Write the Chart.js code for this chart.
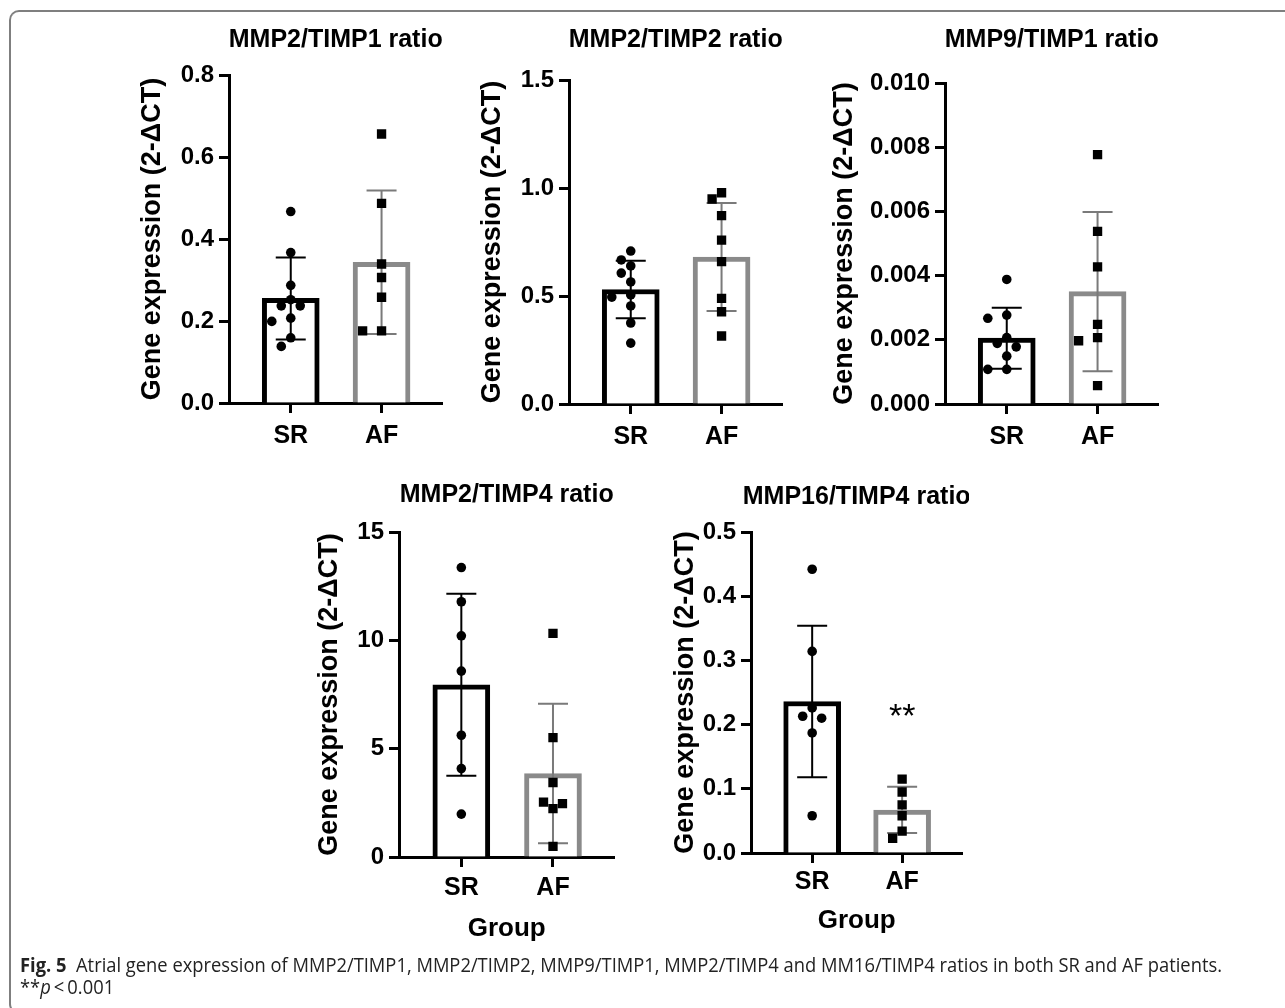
<!DOCTYPE html>
<html>
<head>
<meta charset="utf-8">
<script src="https://cdn.jsdelivr.net/npm/chart.js@4.4.1/dist/chart.umd.min.js"></script>
<style>
  html, body { margin: 0; padding: 0; background: #fff; }
  body { width: 1285px; height: 1008px; position: relative; overflow: hidden; }
  .frame {
    position: absolute; left: 9px; top: 10px; width: 1300px; height: 1004px;
    border: 2px solid #7f7f7f; border-right: none; border-radius: 10px 0 0 10px;
    box-sizing: border-box;
  }
  canvas.panel { position: absolute; }
  .caption {
    position: absolute; left: 20px; font-family: "Open Sans", sans-serif; font-size: 20px;
    line-height: 22px; color: #222; white-space: nowrap; transform-origin: 0 50%;
  }
</style>
</head>
<body>
<div class="frame"></div>
<canvas id="p1" class="panel"></canvas>
<canvas id="p2" class="panel"></canvas>
<canvas id="p3" class="panel"></canvas>
<canvas id="p4" class="panel"></canvas>
<canvas id="p5" class="panel"></canvas>
<div class="caption" id="cap1" style="top:954px"><b>Fig. 5</b>&nbsp; Atrial gene expression of MMP2/TIMP1, MMP2/TIMP2, MMP9/TIMP1, MMP2/TIMP4 and MM16/TIMP4 ratios in both SR and AF patients.</div>
<div class="caption" id="cap2" style="top:976px">**<i>p</i>&thinsp;&lt;&thinsp;0.001</div>

<script>
const groups = ["SR", "AF"];

// MMP2/TIMP1 ratio
const mmp2timp1SR = [0.467, 0.367, 0.287, 0.252, 0.237, 0.237, 0.207, 0.199, 0.159, 0.138];
const mmp2timp1AF = [0.656, 0.487, 0.339, 0.306, 0.258, 0.176, 0.176];
const mmp2timp1Mean = [0.255, 0.343];
const mmp2timp1Sd = [0.100, 0.175];

// MMP2/TIMP2 ratio
const mmp2timp2SR = [0.708, 0.667, 0.639, 0.606, 0.565, 0.505, 0.495, 0.454, 0.375, 0.282];
const mmp2timp2AF = [0.978, 0.949, 0.872, 0.759, 0.659, 0.489, 0.427, 0.315];
const mmp2timp2Mean = [0.530, 0.680];
const mmp2timp2Sd = [0.133, 0.250];

// MMP9/TIMP1 ratio
const mmp9timp1SR = [0.00388, 0.00277, 0.00267, 0.00207, 0.00189, 0.00178, 0.00149, 0.00108, 0.00108];
const mmp9timp1AF = [0.00777, 0.00538, 0.00427, 0.00248, 0.00207, 0.00197, 0.00057];
const mmp9timp1Mean = [0.00205, 0.00350];
const mmp9timp1Sd = [0.00095, 0.00248];

// MMP2/TIMP4 ratio
const mmp2timp4SR = [13.36, 11.78, 10.21, 8.58, 5.62, 4.08, 1.98];
const mmp2timp4AF = [10.32, 5.51, 3.44, 2.23, 2.53, 2.46, 0.49];
const mmp2timp4Mean = [7.95, 3.85];
const mmp2timp4Sd = [4.20, 3.22];

// MMP16/TIMP4 ratio
const mmp16timp4SR = [0.442, 0.314, 0.226, 0.213, 0.210, 0.187, 0.058];
const mmp16timp4AF = [0.115, 0.095, 0.075, 0.058, 0.034, 0.023];
const mmp16timp4Mean = [0.236, 0.067];
const mmp16timp4Sd = [0.118, 0.036];

// y axis: max, step, decimals
const yMaxes = [0.8, 1.5, 0.010, 15, 0.5];
const ySteps = [0.2, 0.5, 0.002, 5, 0.1];
const yDecimals = [1, 1, 3, 0, 1];

const yTitle = "Gene expression (2-\u0394CT)";
const FONT = "'Liberation Sans', Arial, Helvetica, sans-serif";
const X_MIN = -0.68, X_MAX = 1.67;
const barColors = ["#000000", "#8a8a8a"];

Chart.defaults.font.family = FONT;
Chart.defaults.color = "#000";

// spread dots sideways when they would overlap (like the scatter in GraphPad)
function swarm(values, center, yMax, plotH, pxPerX) {
  const pxPerY = plotH / yMax;
  const placed = [];
  const out = [];
  values.forEach((v) => {
    const py = v * pxPerY;
    for (const k of [0, -1, 1, -2, 2, -3, 3]) {
      const px = k * 9.5;
      if (placed.every((p) => Math.hypot(p.x - px, p.y - py) >= 10.5)) {
        placed.push({ x: px, y: py });
        out.push({ x: center + px / pxPerX, y: v });
        break;
      }
    }
  });
  return out;
}

const errorBars = {
  id: "errorBars",
  afterDatasetDraw(chart, args, opts) {
    if (args.meta.type !== "bar") return;
    const { ctx, scales: { x, y } } = chart;
    ctx.save();
    ctx.lineWidth = 2;
    opts.mean.forEach((m, i) => {
      const px = x.getPixelForValue(i);
      const top = y.getPixelForValue(m + opts.sd[i]);
      const bottom = y.getPixelForValue(Math.max(m - opts.sd[i], 0));
      ctx.strokeStyle = i === 0 ? "#000" : "#7a7a7a";
      ctx.beginPath();
      ctx.moveTo(px, top); ctx.lineTo(px, bottom);
      ctx.moveTo(px - 15, top); ctx.lineTo(px + 15, top);
      ctx.moveTo(px - 15, bottom); ctx.lineTo(px + 15, bottom);
      ctx.stroke();
    });
    ctx.restore();
  },
  afterDraw(chart, args, opts) {
    const { ctx, chartArea, scales: { x, y } } = chart;
    ctx.save();
    ctx.fillStyle = "#000";
    ctx.textAlign = "center";
    ctx.textBaseline = "middle";
    ctx.font = "bold 25px " + FONT;
    ctx.fillText(opts.title, (chartArea.left + chartArea.right) / 2, opts.titleY);
    if (opts.star) {
      ctx.font = "34px " + FONT;
      ctx.fillText(opts.star.text, x.getPixelForValue(opts.star.group), y.getPixelForValue(opts.star.value) + 6);
    }
    ctx.restore();
  }
};

function drawPanel(id, n, title, sr, af, mean, sd, box, extra) {
  const canvas = document.getElementById(id);
  canvas.width = box.width;
  canvas.height = box.height;
  canvas.style.left = box.left + "px";
  canvas.style.top = box.top + "px";

  const plotW = box.width - box.yAxisW - 6;
  const plotH = box.height - box.xAxisH - box.padTop;
  const pxPerX = plotW / (X_MAX - X_MIN);
  const fmt = (v) => Number(v).toFixed(yDecimals[n]);

  new Chart(canvas, {
    type: "bar",
    data: {
      datasets: [
        {
          type: "scatter",
          data: swarm(sr, 0, yMaxes[n], plotH, pxPerX),
          pointStyle: "circle",
          pointRadius: 4.8,
          backgroundColor: "#000",
          borderWidth: 0,
          order: 1
        },
        {
          type: "scatter",
          data: swarm(af, 1, yMaxes[n], plotH, pxPerX),
          pointStyle: "rect",
          pointRadius: 6.6,
          backgroundColor: "#000",
          borderWidth: 0,
          order: 1
        },
        {
          type: "bar",
          data: mean.map((m, i) => ({ x: i, y: m })),
          backgroundColor: "#fff",
          borderColor: barColors,
          borderWidth: 5,
          barThickness: 57,
          order: 3
        }
      ]
    },
    options: {
      responsive: false,
      animation: false,
      devicePixelRatio: 1,
      layout: { padding: { top: box.padTop, right: 6, left: 0, bottom: 0 } },
      plugins: {
        legend: { display: false },
        tooltip: { enabled: false },
        errorBars: { mean, sd, title, titleY: box.titleY, star: extra.star }
      },
      scales: {
        x: {
          type: "linear",
          offset: false,
          min: X_MIN,
          max: X_MAX,
          afterBuildTicks: (s) => { s.ticks = groups.map((g, i) => ({ value: i })); },
          afterFit: (s) => { s.height = box.xAxisH; },
          ticks: {
            callback: (v) => groups[v],
            font: { size: 25, weight: "bold" },
            padding: box.xTickPad,
            maxRotation: 0
          },
          grid: { display: true, offset: false, drawOnChartArea: false, drawTicks: true, tickLength: 10, tickWidth: 3, tickColor: "#000" },
          border: { display: true, color: "#000", width: 3 },
          title: extra.group
            ? { display: true, text: "Group", font: { size: 26, weight: "bold" }, padding: { top: 0, bottom: box.groupPad } }
            : { display: false }
        },
        y: {
          min: 0,
          max: yMaxes[n],
          afterFit: (s) => { s.width = box.yAxisW; },
          ticks: {
            stepSize: ySteps[n],
            callback: fmt,
            font: { size: 24, weight: "bold" },
            padding: 5
          },
          grid: { display: true, drawOnChartArea: false, drawTicks: true, tickLength: 10, tickWidth: 3, tickColor: "#000" },
          border: { display: true, color: "#000", width: 3 },
          title: { display: true, text: yTitle, font: { size: 27, weight: "bold" }, padding: { top: box.yTitlePad, bottom: 0 } }
        }
      }
    },
    plugins: [errorBars]
  });
}

drawPanel("p1", 0, "MMP2/TIMP1 ratio", mmp2timp1SR, mmp2timp1AF, mmp2timp1Mean, mmp2timp1Sd,
  { left: 120, top: 0, width: 329, height: 458, padTop: 75, yAxisW: 109, xAxisH: 55, yTitlePad: 16, xTickPad: 8, titleY: 40 }, {});
drawPanel("p2", 1, "MMP2/TIMP2 ratio", mmp2timp2SR, mmp2timp2AF, mmp2timp2Mean, mmp2timp2Sd,
  { left: 460, top: 0, width: 329, height: 459, padTop: 80, yAxisW: 109, xAxisH: 55, yTitlePad: 16, xTickPad: 8, titleY: 40 }, {});
drawPanel("p3", 2, "MMP9/TIMP1 ratio", mmp9timp1SR, mmp9timp1AF, mmp9timp1Mean, mmp9timp1Sd,
  { left: 820, top: 0, width: 345, height: 459, padTop: 83, yAxisW: 125, xAxisH: 55, yTitlePad: 8, xTickPad: 8, titleY: 40 }, {});
drawPanel("p4", 3, "MMP2/TIMP4 ratio", mmp2timp4SR, mmp2timp4AF, mmp2timp4Mean, mmp2timp4Sd,
  { left: 300, top: 460, width: 321, height: 492, padTop: 72, yAxisW: 99, xAxisH: 95, yTitlePad: 13, xTickPad: 6, groupPad: 8, titleY: 35 }, { group: true });
drawPanel("p5", 4, "MMP16/TIMP4 ratio", mmp16timp4SR, mmp16timp4AF, mmp16timp4Mean, mmp16timp4Sd,
  { left: 650, top: 460, width: 319, height: 488, padTop: 72, yAxisW: 101, xAxisH: 95, yTitlePad: 19, xTickPad: 4, groupPad: 12, titleY: 37 },
  { group: true, star: { text: "**", group: 1, value: 0.22 } });

// squeeze the caption to the width of the printed line
const cap1 = document.getElementById("cap1");
const w = cap1.getBoundingClientRect().width;
const k = 1202 / w;
cap1.style.transform = "scaleX(" + k + ")";
document.getElementById("cap2").style.transform = "scaleX(" + k + ")";
</script>
</body>
</html>
